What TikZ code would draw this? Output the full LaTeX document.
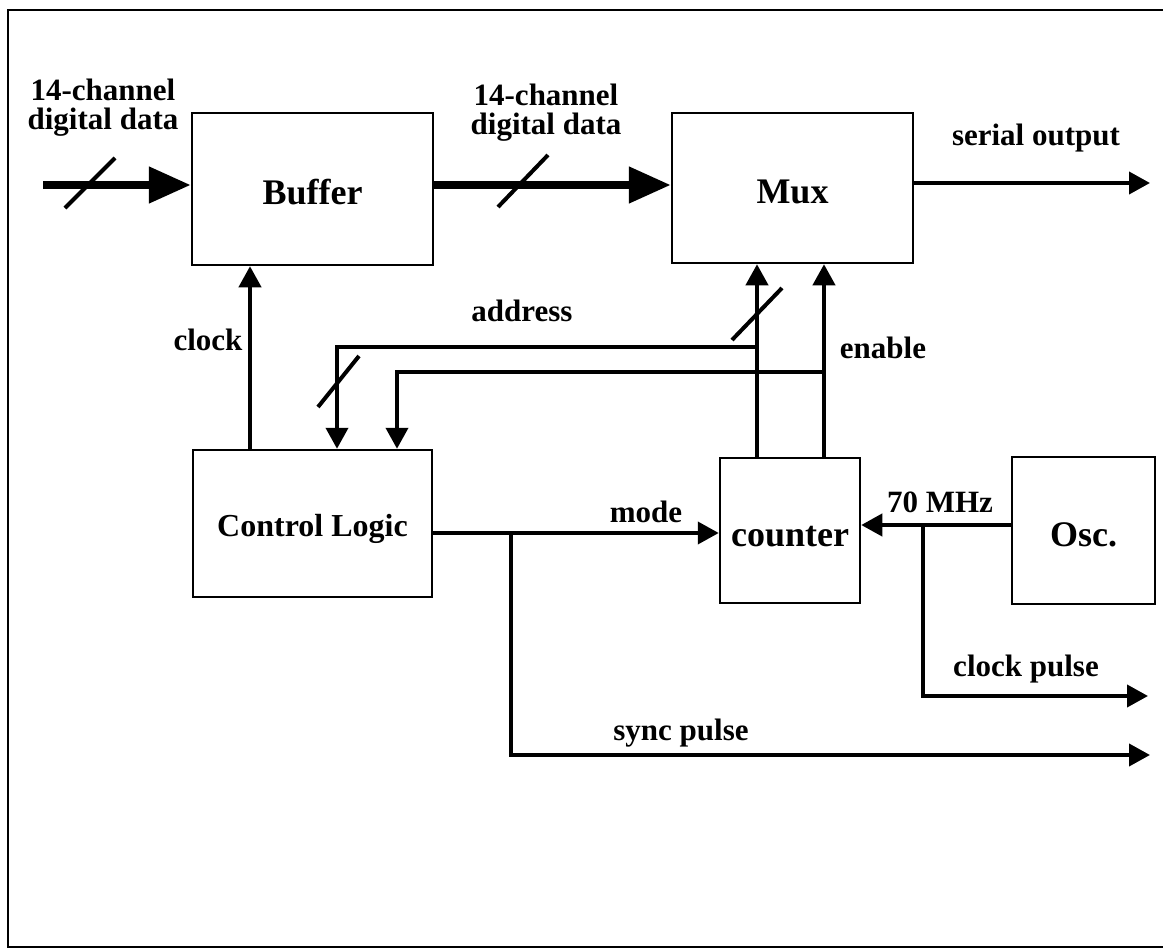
\documentclass[tikz,border=0pt]{standalone}
\usepackage{fontspec}
\setmainfont{Liberation Serif}
\usetikzlibrary{arrows.meta}
\begin{document}
\begin{tikzpicture}[x=1pt,y=-1pt,
  box/.style={draw,line width=2.5pt,inner sep=0pt,text height=31pt,text depth=0pt,
    font=\bfseries\fontsize{36}{36}\selectfont},
  lbl/.style={anchor=base,inner sep=0pt,font=\bfseries\fontsize{31}{31}\selectfont},
  twoline/.style={anchor=center,inner sep=0pt,align=center,font=\bfseries\fontsize{31}{29}\selectfont},
  bus/.style={line width=8pt,-{Triangle[length=42pt,width=35pt]}},
  sig/.style={line width=4pt,-{Triangle[length=21pt,width=22pt]}},
  slashmark/.style={line width=4pt},
  frame/.style={line width=2pt}]
\useasboundingbox (0,0) rectangle (1163,950);
% frame
\draw[frame] (1163,10) -- (8,10) -- (8,947) -- (1163,947);
% boxes
\node[box,minimum width=241pt,minimum height=152pt] (buf) at (312.5,189) {Buffer};
\node[box,minimum width=241pt,minimum height=150pt] (mux) at (792.5,188) {Mux};
\node[box,minimum width=239pt,minimum height=147pt,text height=25pt,font=\bfseries\fontsize{32}{32}\selectfont] (ctl) at (312.5,523.5) {Control Logic};
\node[box,minimum width=140pt,minimum height=145pt] (cnt) at (790,530.5) {counter};
\node[box,minimum width=143pt,minimum height=147pt] (osc) at (1083.5,530.5) {Osc.};
% coordinates
\coordinate (in) at (43,185);
\coordinate (out) at (1150,183);
\coordinate (clkx) at (250,400);
\coordinate (ax) at (757,347);
\coordinate (al) at (337,347);
\coordinate (ex) at (824,372);
\coordinate (el) at (397,372);
\coordinate (my) at (511,533);
\coordinate (syncend) at (1150,755);
\coordinate (jc) at (923,525);
\coordinate (cpend) at (1148,696);
% data buses
\draw[bus] (in) -- (in -| buf.west);
\draw[bus] (buf.east |- in) -- (mux.west |- in);
\draw[sig] (mux.east |- out) -- (out);
% clock
\draw[sig] (ctl.north -| clkx) -- (buf.south -| clkx);
% address
\draw[sig] (cnt.north -| ax) -- (mux.south -| ax);
\draw[sig] (ax) -- (al) -- (ctl.north -| al);
% enable
\draw[sig] (cnt.north -| ex) -- (mux.south -| ex);
\draw[sig] (ex) -- (el) -- (ctl.north -| el);
% mode and sync
\draw[sig] (ctl.east |- my) -- (cnt.west |- my);
\draw[sig] (my) -- (my |- syncend) -- (syncend);
% oscillator
\draw[sig] (osc.west |- jc) -- (cnt.east |- jc);
\draw[sig] (jc) -- (jc |- cpend) -- (cpend);
% bus slashes
\draw[slashmark] (65,208) -- (115,158);
\draw[slashmark] (498,207) -- (548,155);
\draw[slashmark] (732,340) -- (782,288);
\draw[slashmark] (318,407) -- (359,356);
% labels
\node[twoline] (l1) at (103,108) {14-channel\\digital data};
\node[twoline] (l2) at (546,113) {14-channel\\digital data};
\node[lbl] (lser) at (1036,146) {serial output};
\node[lbl] (lclk) at (208,350) {clock};
\node[lbl] (ladr) at (522,321) {address};
\node[lbl] (len) at (883,358) {enable};
\node[lbl] (lmode) at (646,522) {mode};
\node[lbl] (losc) at (940,512) {70 MHz};
\node[lbl] (lcp) at (1026,676) {clock pulse};
\node[lbl] (lsync) at (681,740) {sync pulse};
\end{tikzpicture}
\end{document}
